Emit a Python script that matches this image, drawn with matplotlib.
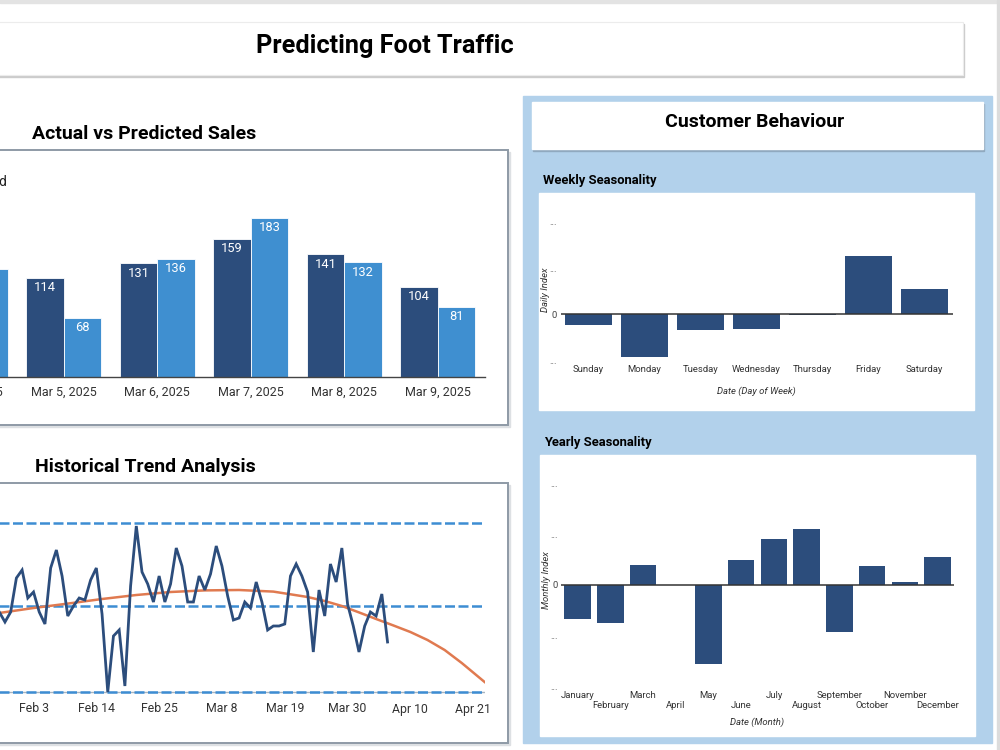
import matplotlib
matplotlib.use("Agg")
import matplotlib.pyplot as plt
from matplotlib.patches import Rectangle
import numpy as np
import pandas as pd

plt.rcParams['font.family'] = ['Roboto', 'DejaVu Sans']

W, H = 1000, 750

# actual vs predicted
sales_dates = ["Mar 4, 2025", "Mar 5, 2025", "Mar 6, 2025", "Mar 7, 2025", "Mar 8, 2025", "Mar 9, 2025"]
actual = [121, 114, 131, 159, 141, 104]
predicted = [124, 68, 136, 183, 132, 81]

# historical trend (daily, from Jan 28)
trend_start = "2025-01-28"
daily_traffic = [117, 112, 117, 134, 138, 124, 127, 117, 111, 139,
                 148, 135, 115, 120, 124, 123, 133, 139, 116, 77,
                 105, 108, 80, 130, 160, 137, 131, 122, 135, 122,
                 131, 149, 140, 122, 122, 135, 128, 136, 150, 140,
                 125, 113, 114, 122, 119, 132, 122, 108, 110, 110,
                 111, 135, 141, 135, 127, 97, 128, 115, 141, 132,
                 149, 121, 110, 97, 110, 117, 115, 126, 102]
fit_dates = ["2025-01-22", "2025-01-28", "2025-02-03", "2025-02-09", "2025-02-15",
             "2025-02-21", "2025-02-27", "2025-03-05", "2025-03-11", "2025-03-17",
             "2025-03-23", "2025-03-26", "2025-03-29", "2025-04-01", "2025-04-04",
             "2025-04-07", "2025-04-10", "2025-04-13", "2025-04-16", "2025-04-19",
             "2025-04-23"]
fit_values = [114, 116.5, 119, 121.2, 123.5, 125.5, 127, 127.8, 128, 127.2,
              124.5, 122.5, 120, 116.8, 113.5, 110.3, 107, 103, 98, 91.5, 82]
upper_band, mean_band, lower_band = 161.5, 120, 77
trend_ticks = ["2025-02-03", "2025-02-14", "2025-02-25", "2025-03-08",
               "2025-03-19", "2025-03-30", "2025-04-10", "2025-04-21"]
trend_tick_labels = ["Feb 3", "Feb 14", "Feb 25", "Mar 8", "Mar 19", "Mar 30", "Apr 10", "Apr 21"]

# seasonality
weekdays = ["Sunday", "Monday", "Tuesday", "Wednesday", "Thursday", "Friday", "Saturday"]
weekly_index = [-0.22, -0.91, -0.34, -0.32, -0.02, 1.27, 0.55]
months = ["January", "February", "March", "April", "May", "June", "July",
          "August", "September", "October", "November", "December"]
monthly_index = [-0.66, -0.75, 0.39, 0.0, -1.55, 0.50, 0.90, 1.10, -0.93, 0.37, 0.06, 0.56]

NAVY = "#2c4d7c"
LIGHT = "#3f8fd0"
DASH = "#3d8dd3"
ORANGE = "#e07a50"
SMALL = 6.8


def box(x0, y0, x1, y1):
    return [x0 / W, 1 - y1 / H, (x1 - x0) / W, (y1 - y0) / H]


def pt(x, y):
    return x / W, 1 - y / H


def rect(fig, x0, y0, x1, y1, z=-10, **kw):
    fig.add_artist(Rectangle((x0 / W, 1 - y1 / H), (x1 - x0) / W, (y1 - y0) / H,
                             transform=fig.transFigure, zorder=z, **kw))


fig = plt.figure(figsize=(10, 7.5), dpi=100)
fig.patch.set_facecolor("white")

# page furniture
rect(fig, 0, 0, 1000, 3, color="#e3e3e3")
rect(fig, 997, 0, 999, 750, color="#dcdcdc")
rect(fig, -10, 24, 964, 77, color="#cccccc")
rect(fig, -10, 22, 963, 75, facecolor="white", edgecolor="#ececec", lw=0.8, z=-9)
rect(fig, 523, 96, 992, 743, color="#b2d1eb")
rect(fig, 533, 104, 984, 151, color="#90a9bf", z=-9)
rect(fig, 532, 102, 983, 149, color="white", z=-8)
rect(fig, 539, 193, 974, 410, color="white", z=-9)
rect(fig, 540, 455, 975, 736, color="white", z=-9)
for (y0, y1) in [(150, 425), (483, 743)]:
    rect(fig, -10, y0 + 2, 510, y1 + 2, color="#dde0e3")
    rect(fig, -10, y0, 508, y1, facecolor="white", edgecolor="#8e9aa6", lw=1.4, z=-9)

fig.text(*pt(385, 52.5), "Predicting Foot Traffic", ha="center", va="baseline",
         fontsize=18.2, fontweight="bold", color="black")
fig.text(*pt(755, 127.3), "Customer Behaviour", ha="center", va="baseline",
         fontsize=14, fontweight="bold", color="black")
fig.text(*pt(32.3, 139.3), "Actual vs Predicted Sales", ha="left", va="baseline",
         fontsize=14, fontweight="bold", color="black")
fig.text(*pt(35, 471.7), "Historical Trend Analysis", ha="left", va="baseline",
         fontsize=14, fontweight="bold", color="black")
fig.text(*pt(543.3, 184), "Weekly Seasonality", ha="left", va="baseline",
         fontsize=9.4, fontweight="bold", color="black")
fig.text(*pt(544.3, 446), "Yearly Seasonality", ha="left", va="baseline",
         fontsize=9.4, fontweight="bold", color="black")

# ---- actual vs predicted bars
px_per_unit = 0.869
ax1 = fig.add_axes(box(-76.5, 377 - 200 * px_per_unit, 484.5, 377))
ax1.set_facecolor("none")
x = np.arange(len(sales_dates))
b1 = ax1.bar(x - 0.2, actual, 0.4, color=NAVY, edgecolor="white", lw=0.6, label="Actual")
b2 = ax1.bar(x + 0.2, predicted, 0.4, color=LIGHT, edgecolor="white", lw=0.6, label="Predicted")
for bars in (b1, b2):
    for r in bars:
        ax1.annotate(f"{int(r.get_height())}", (r.get_x() + r.get_width() / 2, r.get_height()),
                     xytext=(0, -7.2), textcoords="offset points", ha="center", va="center",
                     color="white", fontsize=9.3)
ax1.set_xlim(-0.5, len(sales_dates) - 0.5)
ax1.set_ylim(0, 200)
ax1.set_yticks([])
ax1.set_xticks(x)
ax1.set_xticklabels(sales_dates, fontsize=9, color="#333333")
ax1.tick_params(axis="x", length=0, pad=6)
for s in ["top", "left", "right"]:
    ax1.spines[s].set_visible(False)
ax1.spines["bottom"].set_color("#444444")
ax1.spines["bottom"].set_linewidth(1.0)
fig.text(*pt(8, 186), "Predicted", ha="right", va="baseline", fontsize=10, color="#222222")

# ---- historical trend
dates = pd.date_range(trend_start, periods=len(daily_traffic), freq="D")
fdates = pd.to_datetime(fit_dates)
ax2 = fig.add_axes(box(-40.7, 500, 484.6, 695))
ax2.set_facecolor("none")
ax2.axhline(lower_band, color="#a9b4bf", lw=1.0, zorder=1)
for v in (upper_band, mean_band, lower_band):
    ax2.axhline(v, color=DASH, lw=1.8, linestyle=(0, (4.0, 1.4)), zorder=2)
ax2.plot(fdates, fit_values, color=ORANGE, lw=1.8, zorder=3, solid_joinstyle="round")
ax2.plot(dates, daily_traffic, color=NAVY, lw=2.0, zorder=4, solid_joinstyle="miter")
ax2.set_xlim(pd.Timestamp("2025-01-21"), pd.Timestamp("2025-04-23"))
ax2.set_ylim(120 - (695 - 606) / 2, 120 + (606 - 500) / 2)
ax2.set_yticks([])
ax2.set_xticks(pd.to_datetime(trend_ticks))
ax2.set_xticklabels(trend_tick_labels, fontsize=8.8, color="#333333")
ax2.tick_params(axis="x", length=0, pad=5.4)
for s in ax2.spines.values():
    s.set_visible(False)

# ---- weekly seasonality
ax3 = fig.add_axes(box(560.5, 221.7, 952.5, 360.7))
ax3.set_facecolor("none")
ax3.bar(np.arange(7), weekly_index, 0.84, color=NAVY)
ax3.axhline(0, color="#333333", lw=1.1)
ax3.set_xlim(-0.5, 6.5)
ax3.set_ylim(-1, 2)
ax3.set_yticks([-1, 0, 1, 2])
ax3.set_yticklabels(["...", "0", "...", "..."], fontsize=SMALL, color="#444444")
ax3.set_xticks(np.arange(7))
ax3.set_xticklabels(weekdays, fontsize=SMALL, color="#333333")
ax3.tick_params(axis="x", length=0, pad=2.8)
ax3.tick_params(axis="y", length=0, pad=2.5)
for s in ax3.spines.values():
    s.set_visible(False)
fig.text(*pt(756, 391.7), "Date (Day of Week)", ha="center", va="center",
         fontsize=SMALL, style="italic", color="#333333")
fig.text(*pt(545, 290), "Daily Index", ha="center", va="center", rotation=90,
         fontsize=SMALL, style="italic", color="#333333")

# ---- yearly seasonality
ax4 = fig.add_axes(box(561.3, 483.3, 953.9, 686.7))
ax4.set_facecolor("none")
mx = np.arange(len(months))
ax4.bar(mx, monthly_index, 0.81, color=NAVY)
ax4.axhline(0, color="#333333", lw=1.1)
ax4.set_xlim(-0.5, 11.5)
ax4.set_ylim(-2, 2)
ax4.set_yticks([-2, -1, 0, 1, 2])
ax4.set_yticklabels(["...", "...", "0", "...", "..."], fontsize=SMALL, color="#444444")
# staggered month labels: even months on the first row, odd months one row lower
ax4.set_xticks(mx[::2])
ax4.set_xticklabels(months[::2], fontsize=SMALL, color="#333333")
ax4.set_xticks(mx[1::2], minor=True)
ax4.set_xticklabels(months[1::2], minor=True, fontsize=SMALL, color="#333333")
ax4.tick_params(axis="x", which="major", length=0, pad=3.0)
ax4.tick_params(axis="x", which="minor", length=0, pad=10.4)
ax4.tick_params(axis="y", length=0, pad=2.2)
for s in ax4.spines.values():
    s.set_visible(False)
fig.text(*pt(757.5, 722.7), "Date (Month)", ha="center", va="center",
         fontsize=SMALL, style="italic", color="#333333")
fig.text(*pt(546.7, 580), "Monthly Index", ha="center", va="center", rotation=90,
         fontsize=SMALL, style="italic", color="#333333")

fig.savefig("out.png", dpi=100)
